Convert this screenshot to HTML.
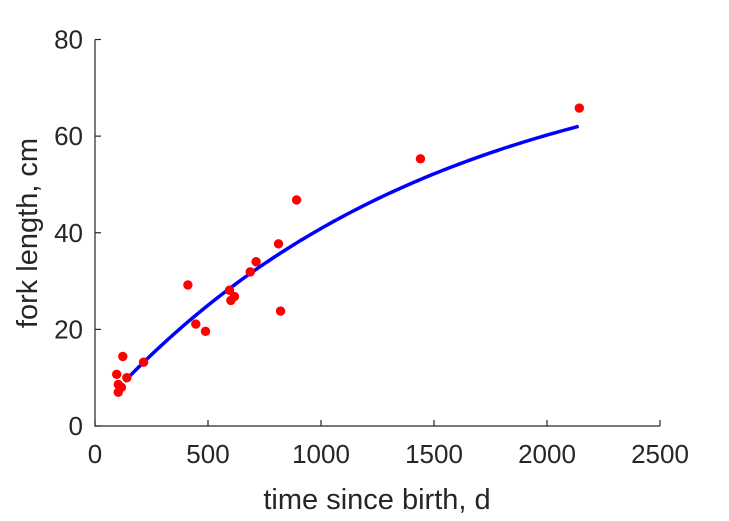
<!DOCTYPE html>
<html><head><meta charset="utf-8"><style>
body{margin:0;background:#fff}
svg{display:block;font-family:"Liberation Sans",sans-serif}
</style></head><body>
<svg id="chart" width="729" height="521" viewBox="0 0 729 521">
<g id="axes"></g><g id="marks"></g>
</svg>
<script>
const xTicks=[0,500,1000,1500,2000,2500];
const yTicks=[0,20,40,60,80];
const ageDays=[96,123,103,117,103,141,215,411,446,489,595,617,601,687,713,821,812,892,1440,2143];
const forkLength=[10.7,14.4,8.6,8.0,7.0,10.0,13.2,29.2,21.1,19.6,28.1,26.8,26.0,31.9,34.0,23.8,37.7,46.8,55.3,65.8];
const fitParams=[80,0.000682,-49]; // Linf, k, t0
const fitRange=[130,2140];
const NS="http://www.w3.org/2000/svg";
const X0=95,X1=660,Y0=426,Y1=39.5;
const xs=v=>X0+(v-0)/(2500)*(X1-X0);
const ys=v=>Y0-(v/80)*(Y0-Y1);
const axes=document.getElementById('axes'),marks=document.getElementById('marks');
function mk(t,a,p){const e=document.createElementNS(NS,t);for(const k in a)e.setAttribute(k,a[k]);p.appendChild(e);return e;}
let ax=mk('path',{d:`M${X0},${Y1}V${Y0}H${X1}`,fill:'none',stroke:'#262626','stroke-width':1.2},axes);


xTicks.forEach(v=>{
 const l=mk('line',{x1:xs(v),x2:xs(v),y1:Y0,y2:Y0-6,stroke:'#262626','stroke-width':1.2},axes);
 
 
 const t=mk('text',{x:xs(v),y:Y0+37,'text-anchor':'middle','font-size':26,fill:'#262626'},axes);
 t.textContent=v;
 
 
});
yTicks.forEach(v=>{
 const l=mk('line',{x1:X0,x2:X0+6,y1:ys(v),y2:ys(v),stroke:'#262626','stroke-width':1.2},axes);
 
 
 const t=mk('text',{x:X0-12,y:ys(v)+9,'text-anchor':'end','font-size':26,fill:'#262626'},axes);
 t.textContent=v;
 
 
});
let xt=mk('text',{x:377,y:509,'text-anchor':'middle','font-size':29,fill:'#262626'},axes);
xt.textContent='time since birth, d';


let yt=mk('text',{x:0,y:0,transform:'translate(37,233) rotate(-90)','text-anchor':'middle','font-size':29,fill:'#262626'},axes);
yt.textContent='fork length, cm';


let d='';
for(let i=0;i<=100;i++){const t=fitRange[0]+(fitRange[1]-fitRange[0])*i/100;
 const L=fitParams[0]*(1-Math.exp(-fitParams[1]*(t-fitParams[2])));
 d+=(i?'L':'M')+xs(t).toFixed(2)+','+ys(L).toFixed(2);}
let fl=mk('path',{d,fill:'none',stroke:'#0000ff','stroke-width':3.5},marks);


ageDays.forEach((a,i)=>{
 const c=mk('circle',{cx:xs(a),cy:ys(forkLength[i]),r:4.7,fill:'#ff0000'},marks);
 
 
});
</script>
</body></html>
